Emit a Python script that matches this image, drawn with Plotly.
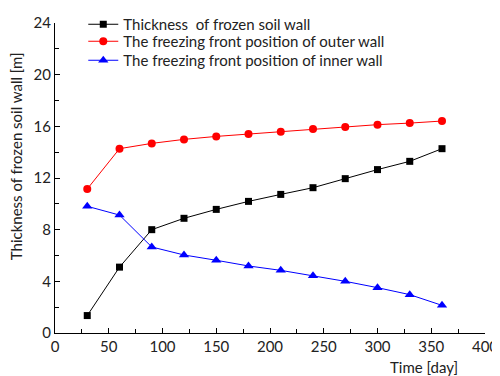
import plotly.graph_objects as go

days = [30, 60, 90, 120, 150, 180, 210, 240, 270, 300, 330, 360]
thickness = [1.35, 5.1, 8.0, 8.88, 9.57, 10.19, 10.73, 11.25, 11.95, 12.65, 13.29, 14.27]
outer = [11.15, 14.27, 14.68, 14.99, 15.22, 15.40, 15.58, 15.79, 15.94, 16.13, 16.25, 16.41]
inner = [9.81, 9.13, 6.66, 6.04, 5.63, 5.19, 4.85, 4.44, 4.0, 3.51, 2.97, 2.14]

names = ["Thickness  of frozen soil wall",
         "The freezing front position of outer wall",
         "The freezing front position of inner wall"]

FONT = "Lato"
W, H = 492, 368  # page body has an 8px margin

fig = go.Figure()
fig.add_trace(go.Scatter(x=days, y=thickness, mode="lines+markers", name=names[0],
                         line=dict(color="black", width=1),
                         marker=dict(symbol="square", size=7, color="black"),
                         legend="legend"))
fig.add_trace(go.Scatter(x=days, y=outer, mode="lines+markers", name=names[1],
                         line=dict(color="red", width=1),
                         marker=dict(symbol="circle", size=8, color="red"),
                         legend="legend2"))
fig.add_trace(go.Scatter(x=days, y=inner, mode="lines+markers", name=names[2],
                         line=dict(color="blue", width=1),
                         marker=dict(symbol="triangle-up", size=9, color="blue"),
                         legend="legend3"))

def leg(top_px):
    return dict(xref="container", yref="container", x=0.153, y=1 - top_px / H,
                xanchor="left", yanchor="top", bgcolor="rgba(0,0,0,0)",
                font=dict(family=FONT, size=15, color="#222"), itemwidth=30)

fig.update_layout(
    width=W, height=H,
    margin=dict(l=47, r=15, t=15, b=43, autoexpand=False),
    plot_bgcolor="white", paper_bgcolor="white",
    font=dict(family=FONT, size=15, color="#222"),
    showlegend=True,
    legend=leg(-2), legend2=leg(17), legend3=leg(36),
    xaxis=dict(range=[0, 400], dtick=50, tick0=0, showgrid=False, zeroline=False,
               automargin=False,
               showline=True, linecolor="black", linewidth=1.3,
               ticks="inside", ticklen=5, tickcolor="black",
               minor=dict(dtick=25, ticks="inside", ticklen=4, tickcolor="black"),
               tickfont=dict(family=FONT, size=15, color="#222")),
    yaxis=dict(range=[0, 24], dtick=4, tick0=0, showgrid=False, zeroline=False,
               automargin=False,
               showline=True, linecolor="black", linewidth=1.3,
               ticks="inside", ticklen=5, tickcolor="black",
               minor=dict(dtick=2, ticks="inside", ticklen=4, tickcolor="black"),
               tickfont=dict(family=FONT, size=15, color="#222")),
    annotations=[
        dict(text="Time [day]", xref="paper", yref="paper", x=0.858, y=-0.074,
             xanchor="center", yanchor="top", showarrow=False,
             font=dict(family=FONT, size=15, color="#222")),
        dict(text="Thickness of frozen soil wall [m]", xref="paper", yref="paper",
             x=-0.091, y=0.57, xanchor="center", yanchor="middle", textangle=-90,
             showarrow=False, font=dict(family=FONT, size=15, color="#222")),
    ],
)

fig.write_html("out.html")
